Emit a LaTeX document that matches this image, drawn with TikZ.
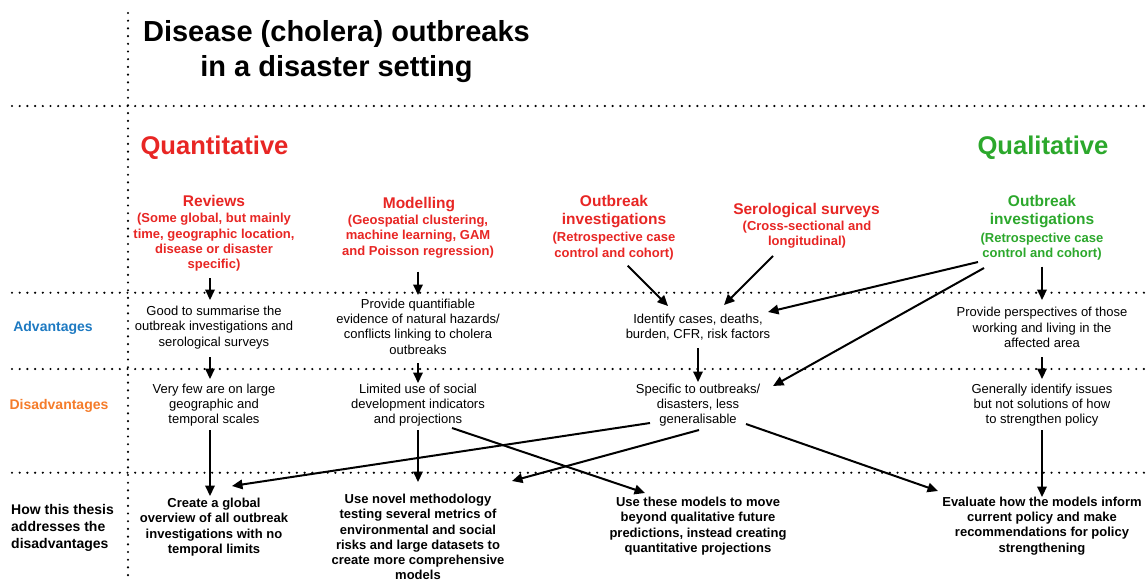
\documentclass[tikz,border=0pt]{standalone}
\usepackage{fontspec}
\setmainfont{Liberation Sans}
\usetikzlibrary{arrows.meta,calc}
\definecolor{qred}{RGB}{232,38,36}
\definecolor{qgreen}{RGB}{44,168,44}
\definecolor{qblue}{RGB}{30,122,194}
\definecolor{qorange}{RGB}{245,124,42}
\begin{document}
\begin{tikzpicture}[x=1pt,y=-1pt,
  txt/.style={inner sep=0pt, align=center, font=\fontsize{13}{15.3}\selectfont},
  btxt/.style={inner sep=0pt, align=center, font=\fontsize{13}{15.3}\selectfont\bfseries},
  headtxt/.style={inner sep=0pt, align=center, font=\fontsize{15.5}{18.3}\selectfont\bfseries},
  bigtxt/.style={inner sep=0pt, anchor=base, font=\fontsize{25.6}{30}\selectfont\bfseries},
  rowlab/.style={inner sep=0pt, font=\fontsize{14}{17}\selectfont\bfseries},
  dotline/.style={line width=2.4pt, line cap=round, dash pattern=on 0pt off 7.7pt},
  arr/.style={line width=2pt, -{Triangle[length=10.5pt,width=9.5pt]}},
  ln/.style={line width=2pt}
]
\fill[white] (0,0) rectangle (1147,581);
\useasboundingbox (0,0) rectangle (1147,581);

% grid of dotted lines
\draw[dotline] (128,13) -- (128,578);
\draw[dotline] (12,106) -- (1146,106);
\draw[dotline] (12,292.7) -- (1146,292.7);
\draw[dotline] (12,369) -- (1146,369);
\draw[dotline] (12,472.7) -- (1146,472.7);

% title
\node[inner sep=0pt, align=center, font=\fontsize{29}{35}\selectfont\bfseries] (title) at (336.5,51.5) {Disease (cholera) outbreaks\\in a disaster setting};

\node[bigtxt, text=qred] (quant) at (214.5,154) {Quantitative};
\node[bigtxt, text=qgreen] (qual) at (1043,154) {Qualitative};

% row labels
\node[rowlab, anchor=base, text=qblue] (advl) at (53,331.5) {Advantages};
\node[rowlab, anchor=base, text=qorange] (disl) at (59,409) {Disadvantages};
\node[rowlab, anchor=west, align=left] (howl) at (11,528) {How this thesis\\addresses the\\disadvantages};

% method headings
\node[headtxt, anchor=base, text=qred] (rev-h) at (214,206) {Reviews};
\node[btxt, text=qred] (rev-s) at (214,242.5) {(Some global, but mainly\\time, geographic location,\\disease or disaster\\specific)};
\node[headtxt, anchor=base, text=qred] (mod-h) at (419,208) {Modelling};
\node[btxt, text=qred] (mod-s) at (418,236.5) {(Geospatial clustering,\\machine learning, GAM\\and Poisson regression)};
\node[headtxt, text=qred] (oi-h) at (614,211.5) {Outbreak\\investigations};
\node[btxt, text=qred] (oi-s) at (614,246) {(Retrospective case\\control and cohort)};
\node[headtxt, anchor=base, text=qred] (sero-h) at (806.5,214) {Serological surveys};
\node[btxt, text=qred] (sero-s) at (807,234.5) {(Cross-sectional and\\longitudinal)};
\node[headtxt, text=qgreen] (ql-h) at (1042,211.5) {Outbreak\\investigations};
\node[btxt, text=qgreen] (ql-s) at (1042,246.5) {(Retrospective case\\control and cohort)};

% advantages
\node[txt] (rev-a) at (214,327.5) {Good to summarise the\\outbreak investigations and\\serological surveys};
\node[txt] (mod-a) at (418,326.5) {Provide quantifiable\\evidence of natural hazards/\\conflicts linking to cholera\\outbreaks};
\node[txt] (oi-a) at (698,327) {Identify cases, deaths,\\burden, CFR, risk factors};
\node[txt] (ql-a) at (1042,327.5) {Provide perspectives of those\\working and living in the\\affected area};

% disadvantages
\node[txt] (rev-d) at (214,405) {Very few are on large\\geographic and\\temporal scales};
\node[txt] (mod-d) at (418,405) {Limited use of social\\development indicators\\and projections};
\node[txt] (oi-d) at (698,405) {Specific to outbreaks/\\disasters, less\\generalisable};
\node[txt] (ql-d) at (1042,405) {Generally identify issues\\but not solutions of how\\to strengthen policy};

% thesis
\node[btxt] (b1) at (214,527) {Create a global\\overview of all outbreak\\investigations with no\\temporal limits};
\node[btxt] (b2) at (418,537) {Use novel methodology\\testing several metrics of\\environmental and social\\risks and large datasets to\\create more comprehensive\\models};
\node[btxt] (b3) at (698,526) {Use these models to move\\beyond qualitative future\\predictions, instead creating\\quantitative projections};
\node[btxt] (b4) at (1042,526) {Evaluate how the models inform\\current policy and make\\recommendations for policy\\strengthening};

% vertical arrows
\draw[arr] ($(rev-s.center)+(-4,35.5)$) -- ($(rev-a.center)+(-4,-27.5)$);
\draw[arr] ($(rev-a.center)+(-4,29.5)$) -- ($(rev-d.center)+(-4,-26)$);
\draw[arr] ($(rev-d.center)+(-4,25)$) -- ($(b1.center)+(-4,-31)$);
\draw[arr] ($(mod-s.center)+(0,35.2)$) -- ($(mod-a.center)+(0,-31.5)$);
\draw[arr] ($(mod-a.center)+(0,36.5)$) -- ($(mod-d.center)+(0,-22)$);
\draw[arr] ($(mod-d.center)+(0,25)$) -- ($(b2.center)+(0,-55)$);
\draw[arr] ($(ql-s.center)+(0,20.2)$) -- ($(ql-a.center)+(0,-27.5)$);
\draw[arr] ($(ql-a.center)+(0,29.5)$) -- ($(ql-d.center)+(0,-26)$);
\draw[arr] ($(ql-d.center)+(0,25)$) -- ($(b4.center)+(0,-29)$);
\draw[arr] ($(oi-a.center)+(0,21)$) -- ($(oi-d.center)+(0,-23)$);

% diagonal arrows
\draw[arr] ($(oi-s.center)+(13.7,19.7)$) -- ($(oi-a.center)+(-30,-21)$);
\draw[arr] ($(sero-s.center)+(-34,21.5)$) -- ($(oi-a.center)+(26,-22)$);
\draw[arr] ($(ql-s.center)+(-64,15.5)$) -- ($(oi-a.center)+(70,-15)$);
\draw[arr] ($(ql-s.center)+(-58,21.5)$) -- ($(oi-d.center)+(75,-19)$);
\draw[arr] ($(oi-d.center)+(-48,18)$) -- ($(b1.center)+(18,-41)$);
\draw[arr] ($(oi-d.center)+(1,25)$) -- ($(b2.center)+(94,-56)$);
\draw[arr] ($(mod-d.center)+(34,23)$) -- ($(b3.center)+(-53,-33)$);
\draw[arr] ($(oi-d.center)+(48,19)$) -- ($(b4.center)+(-104,-35)$);
\end{tikzpicture}
\end{document}
